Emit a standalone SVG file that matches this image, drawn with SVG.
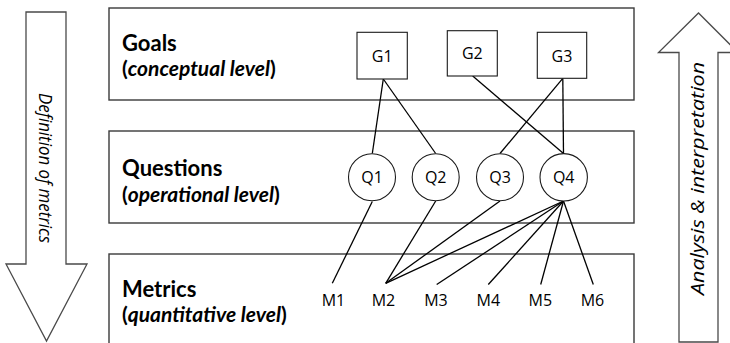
<svg xmlns="http://www.w3.org/2000/svg" width="730" height="343" viewBox="0 0 730 343">
  <style>
    .band { fill: #ffffff; stroke: #3a3a3a; stroke-width: 1.4; }
    .arrow { fill: #ffffff; stroke: #4a4a4a; stroke-width: 1.3; }
    .node { fill: #ffffff; stroke: #1a1a1a; stroke-width: 1.1; }
    .edge { stroke: #000000; stroke-width: 1.3; fill: none; }
    .title { font-family: Lato, "Liberation Sans", sans-serif; font-weight: bold; font-size: 22px; fill: #000; }
    .sub { font-family: Lato, "Liberation Sans", sans-serif; font-weight: bold; font-size: 21px; fill: #000; }
    .sub tspan.it { font-style: italic; }
    .lbl { font-family: "Open Sans", "Liberation Sans", sans-serif; font-size: 16px; fill: #000; text-anchor: middle; }
    .side { font-family: "Open Sans", "Liberation Sans", sans-serif; font-style: italic; font-size: 19px; fill: #000; text-anchor: middle; }
  </style>

  <!-- side arrows -->
  <g id="arrow-definition">
    <polygon class="arrow" points="26,12 66,12 66,264 87,264 46.5,341 6,264 26,264"/>
    <text class="side" transform="translate(39,168) rotate(90)" textLength="150" lengthAdjust="spacingAndGlyphs">Definition of metrics</text>
  </g>
  <g id="arrow-analysis">
    <polygon class="arrow" points="679,342 718,342 718,52.5 738,52.5 698.5,13 658.5,52.5 679,52.5"/>
    <text class="side" transform="translate(703.5,178.5) rotate(-90)" textLength="233" lengthAdjust="spacingAndGlyphs">Analysis &amp; interpretation</text>
  </g>

  <!-- level bands -->
  <g id="band-goals">
    <rect class="band" x="109" y="8" width="525" height="92"/>
    <text class="title" x="122" y="50.7">Goals</text>
    <text class="sub" x="122" y="75.7">(<tspan class="it">conceptual level</tspan>)</text>
  </g>
  <g id="band-questions">
    <rect class="band" x="109" y="131" width="525" height="92"/>
    <text class="title" x="122" y="175.7">Questions</text>
    <text class="sub" x="122" y="201.7">(<tspan class="it">operational level</tspan>)</text>
  </g>
  <g id="band-metrics">
    <rect class="band" x="109" y="254" width="525" height="95"/>
    <text class="title" x="122" y="296.7">Metrics</text>
    <text class="sub" x="122" y="322">(<tspan class="it">quantitative level</tspan>)</text>
  </g>

  <!-- connectors -->
  <g id="connectors">
    <line class="edge" x1="383.3" y1="79" x2="372.3" y2="153.5"/>
    <line class="edge" x1="383.3" y1="79" x2="435.7" y2="153.5"/>
    <line class="edge" x1="472.7" y1="76" x2="563.5" y2="153.5"/>
    <line class="edge" x1="562.8" y1="78.3" x2="500" y2="153.5"/>
    <line class="edge" x1="562.8" y1="78.3" x2="563.5" y2="153.5"/>
    <line class="edge" x1="372.3" y1="201.5" x2="332.3" y2="283.3"/>
    <line class="edge" x1="435.7" y1="201" x2="385.7" y2="283.3"/>
    <line class="edge" x1="500" y1="201" x2="385.7" y2="283.3"/>
    <line class="edge" x1="563.5" y1="201" x2="385.7" y2="283.3"/>
    <line class="edge" x1="563.5" y1="201" x2="436.7" y2="284.5"/>
    <line class="edge" x1="563.5" y1="201" x2="488.3" y2="284.5"/>
    <line class="edge" x1="563.5" y1="201" x2="540.7" y2="284.5"/>
    <line class="edge" x1="563.5" y1="201" x2="593.3" y2="284.5"/>
  </g>

  <!-- goals -->
  <g id="G1">
    <rect class="node" x="357" y="32.3" width="50.3" height="46.7"/>
    <text class="lbl" x="382.2" y="61.7">G1</text>
  </g>
  <g id="G2">
    <rect class="node" x="447.3" y="30.7" width="50" height="45.3"/>
    <text class="lbl" x="472.3" y="59.3">G2</text>
  </g>
  <g id="G3">
    <rect class="node" x="537.3" y="32.3" width="49.4" height="46"/>
    <text class="lbl" x="562" y="61.7">G3</text>
  </g>

  <!-- questions -->
  <g id="Q1">
    <circle class="node" cx="372" cy="177.3" r="23.5"/>
    <text class="lbl" x="372" y="183.3">Q1</text>
  </g>
  <g id="Q2">
    <circle class="node" cx="435.7" cy="177.3" r="23.5"/>
    <text class="lbl" x="435.7" y="183.3">Q2</text>
  </g>
  <g id="Q3">
    <circle class="node" cx="500" cy="177.3" r="23.5"/>
    <text class="lbl" x="500" y="183.3">Q3</text>
  </g>
  <g id="Q4">
    <circle class="node" cx="563.7" cy="177.3" r="23.7"/>
    <text class="lbl" x="563.7" y="183.3">Q4</text>
  </g>

  <!-- metrics -->
  <g id="M1"><text class="lbl" x="333.5" y="305.7">M1</text></g>
  <g id="M2"><text class="lbl" x="383.5" y="305.7">M2</text></g>
  <g id="M3"><text class="lbl" x="436" y="305.7">M3</text></g>
  <g id="M4"><text class="lbl" x="488.3" y="305.7">M4</text></g>
  <g id="M5"><text class="lbl" x="540.3" y="305.7">M5</text></g>
  <g id="M6"><text class="lbl" x="592.5" y="305.7">M6</text></g>
</svg>
